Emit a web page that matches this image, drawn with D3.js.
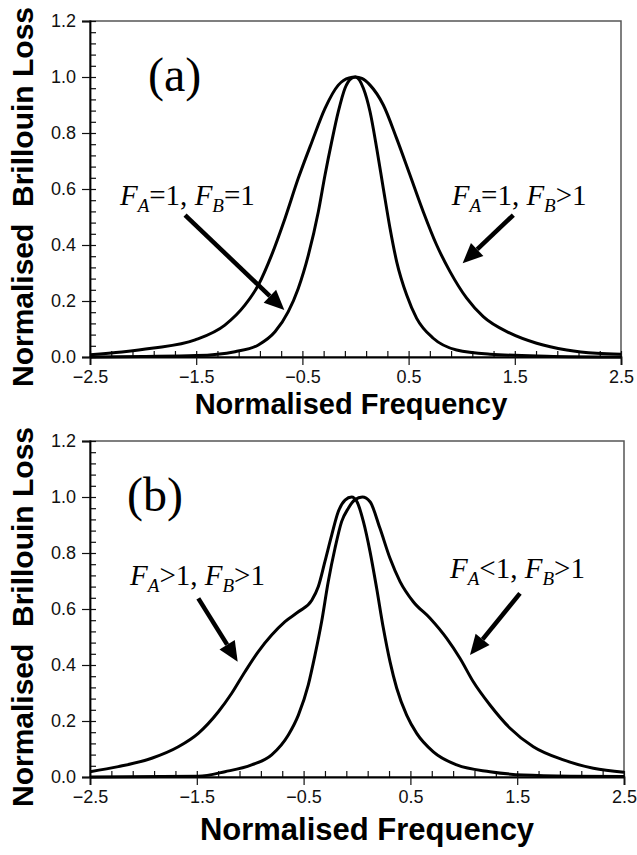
<!DOCTYPE html>
<html>
<head>
<meta charset="utf-8">
<script src="https://cdn.jsdelivr.net/npm/d3@7"></script>
<style>
  body { margin: 0; background: #fff; }
  svg { display: block; }
</style>
</head>
<body>
<svg id="chart" width="637" height="855"></svg>
<script>
// ---- data ----
var xMajor = [-2.5, -1.5, -0.5, 0.5, 1.5, 2.5];
var yMajor = [0, 0.2, 0.4, 0.6, 0.8, 1.0, 1.2];

// panel (a): F_A=1, F_B=1 (narrow)
var aNarrowX = [-2.5, -2.0, -1.5, -1.135, -0.915, -0.758, -0.633, -0.539, -0.444, -0.35, -0.287, -0.224, -0.162, -0.099, -0.04, 0.0, 0.074, 0.137, 0.2, 0.262, 0.325, 0.388, 0.482, 0.576, 0.732, 0.952, 1.266, 1.8, 2.5];
var aNarrowY = [0.0, 0.002, 0.005, 0.019, 0.043, 0.09, 0.162, 0.245, 0.364, 0.519, 0.65, 0.769, 0.876, 0.96, 0.995, 1.0, 0.96, 0.876, 0.745, 0.602, 0.46, 0.34, 0.221, 0.138, 0.067, 0.025, 0.01, 0.003, 0.0];
// panel (a): F_A=1, F_B>1 (wide)
var aWideX = [-2.5, -2.2, -1.92, -1.51, -1.23, -1.04, -0.915, -0.79, -0.664, -0.539, -0.41, -0.287, -0.162, -0.06, 0.0, 0.06, 0.137, 0.262, 0.388, 0.513, 0.638, 0.764, 0.89, 1.047, 1.203, 1.455, 1.706, 1.989, 2.27, 2.5];
var aWideY = [0.008, 0.018, 0.031, 0.061, 0.114, 0.186, 0.257, 0.364, 0.495, 0.638, 0.769, 0.888, 0.971, 0.997, 1.0, 0.995, 0.971, 0.9, 0.78, 0.65, 0.519, 0.4, 0.305, 0.21, 0.144, 0.085, 0.049, 0.025, 0.013, 0.01];

// panel (b): F_A>1, F_B>1 (wide on the low side)
var bLeftX = [-2.5, -2.235, -1.922, -1.673, -1.486, -1.298, -1.173, -1.049, -0.924, -0.799, -0.674, -0.549, -0.425, -0.362, -0.3, -0.237, -0.175, -0.112, -0.05, 0.0, 0.06, 0.122, 0.184, 0.247, 0.309, 0.372, 0.465, 0.559, 0.715, 0.934, 1.245, 1.557, 2.0, 2.5];
var bLeftY = [0.019, 0.037, 0.067, 0.108, 0.156, 0.233, 0.299, 0.376, 0.448, 0.507, 0.555, 0.59, 0.63, 0.68, 0.77, 0.864, 0.948, 0.989, 1.0, 0.983, 0.912, 0.805, 0.674, 0.531, 0.412, 0.317, 0.221, 0.156, 0.09, 0.043, 0.019, 0.007, 0.003, 0.002];
// panel (b): F_A<1, F_B>1 (wide on the high side)
var bRightX = [-2.5, -1.486, -1.236, -0.987, -0.799, -0.643, -0.549, -0.456, -0.393, -0.331, -0.269, -0.206, -0.144, -0.081, -0.02, 0.05, 0.122, 0.215, 0.309, 0.403, 0.527, 0.684, 0.84, 0.964, 1.089, 1.245, 1.433, 1.651, 1.932, 2.213, 2.5];
var bRightY = [0.0, 0.003, 0.019, 0.043, 0.079, 0.15, 0.221, 0.329, 0.436, 0.555, 0.698, 0.817, 0.912, 0.96, 0.99, 1.0, 0.983, 0.888, 0.781, 0.698, 0.626, 0.567, 0.495, 0.424, 0.34, 0.257, 0.174, 0.108, 0.061, 0.031, 0.017];

// annotation labels: [a, b, rel, value] ; arrows: [x1, y1, x2, y2] in data units
var aLabels = [["A", "B", "=1, ", "=1"], ["A", "B", "=1, ", ">1"]];
var aLabelPos = [[-2.218, 0.543], [0.906, 0.543]];
var aArrows = [[-1.605, 0.507, -0.67, 0.168], [1.486, 0.507, 1.009, 0.335]];
var bLabels = [["A", "B", ">1, ", ">1"], ["A", "B", "<1, ", ">1"]];
var bLabelPos = [[-2.125, 0.686], [0.871, 0.711]];
var bArrows = [[-1.486, 0.638, -1.117, 0.412], [1.526, 0.656, 1.058, 0.436]];

var svg = d3.select("#chart");

var zip = function(xs, ys) { return xs.map(function(x, i) { return [x, ys[i]]; }); };

function drawPanel(p) {
    var x = d3.scaleLinear().domain([-2.5, 2.5]).range([p.left, p.right]);
    var y = d3.scaleLinear().domain([0, 1.2]).range([p.bottom, p.top]);
    var g = svg.append("g");

    // frame
    g.append("rect")
        .attr("x", p.left).attr("y", p.top)
        .attr("width", p.right - p.left).attr("height", p.bottom - p.top)
        .attr("fill", "none").attr("stroke", "#555").attr("stroke-width", 1.5);

    // minor ticks (inward)
    var xMinor = d3.range(0, 26).map(function(i) { return -2.5 + i * 0.2; });
    var yMinor = d3.range(0, 31).map(function(i) { return i * 0.04; });
    g.append("g")
        .attr("transform", "translate(0," + p.bottom + ")")
        .call(d3.axisBottom(x).tickValues(xMinor).tickSize(-6).tickFormat(""))
        .call(function(s) { s.select(".domain").remove(); });
    g.append("g")
        .attr("transform", "translate(" + p.left + ",0)")
        .call(d3.axisLeft(y).tickValues(yMinor).tickSize(-6).tickFormat(""))
        .call(function(s) { s.select(".domain").remove(); });

    // major ticks and labels
    var xa = g.append("g")
        .attr("transform", "translate(0," + p.bottom + ")")
        .call(d3.axisBottom(x).tickValues(xMajor).tickSize(8).tickPadding(5).tickFormat(d3.format(".1f")));
    var ya = g.append("g")
        .attr("transform", "translate(" + p.left + ",0)")
        .call(d3.axisLeft(y).tickValues(yMajor).tickSize(8).tickPadding(6).tickFormat(d3.format(".1f")));
    [xa, ya].forEach(function(a) {
        a.select(".domain").attr("stroke", "#000").attr("stroke-width", 1.8);
        a.selectAll("text").attr("font-family", "Liberation Sans, Arial, sans-serif")
            .attr("font-size", 18).attr("fill", "#111");
    });
    g.selectAll(".tick line").attr("stroke", "#111").attr("stroke-width", 1.2);

    // curves
    var line = d3.line()
        .x(function(d) { return x(d[0]); })
        .y(function(d) { return y(d[1]); })
        .curve(d3.curveMonotoneX);
    p.curves.forEach(function(c) {
        g.append("path").attr("d", line(c))
            .attr("fill", "none").attr("stroke", "#000")
            .attr("stroke-width", 3).attr("stroke-linejoin", "round");
    });

    // panel letter
    g.append("text")
        .attr("x", x(p.letterPos[0])).attr("y", y(p.letterPos[1]))
        .attr("font-family", "Liberation Serif, Times New Roman, serif")
        .attr("font-size", 48)
        .text(p.letter);

    // annotation labels
    p.labels.forEach(function(l, i) {
        var t = g.append("text")
            .attr("x", x(p.labelPos[i][0])).attr("y", y(p.labelPos[i][1]))
            .attr("font-family", "Liberation Serif, Times New Roman, serif")
            .attr("font-size", 29);
        t.append("tspan").attr("font-style", "italic").text("F");
        t.append("tspan").attr("font-style", "italic").attr("font-size", 19).attr("dy", 7).text(l[0]);
        t.append("tspan").attr("dy", -7).style("white-space", "pre").text(l[2]);
        t.append("tspan").attr("font-style", "italic").text("F");
        t.append("tspan").attr("font-style", "italic").attr("font-size", 19).attr("dy", 7).text(l[1]);
        t.append("tspan").attr("dy", -7).text(l[3]);
    });

    // arrows
    p.arrows.forEach(function(a) {
        var x1 = x(a[0]), y1 = y(a[1]), x2 = x(a[2]), y2 = y(a[3]);
        var ang = Math.atan2(y2 - y1, x2 - x1);
        var hl = 20, hw = 9;
        var bx = x2 - hl * Math.cos(ang), by = y2 - hl * Math.sin(ang);
        g.append("line")
            .attr("x1", x1).attr("y1", y1).attr("x2", bx).attr("y2", by)
            .attr("stroke", "#000").attr("stroke-width", 4.5);
        var px = -Math.sin(ang), py = Math.cos(ang);
        g.append("polygon")
            .attr("points", [[x2, y2], [bx + hw * px, by + hw * py], [bx - hw * px, by - hw * py]].join(" "))
            .attr("fill", "#000");
    });

    // axis titles
    svg.append("text")
        .attr("x", p.xTitle[0]).attr("y", p.xTitle[1])
        .attr("text-anchor", "middle")
        .attr("font-family", "Liberation Sans, Arial, sans-serif")
        .attr("font-weight", "bold").attr("font-size", p.xTitle[2])
        .text("Normalised Frequency");
    svg.append("text")
        .attr("transform", "translate(33," + p.yTitleMid + ") rotate(-90)")
        .attr("text-anchor", "middle")
        .attr("font-family", "Liberation Sans, Arial, sans-serif")
        .attr("font-weight", "bold").attr("font-size", 30)
        .style("white-space", "pre")
        .text("Normalised  Brillouin Loss");
}

drawPanel({
    left: 90, right: 621, top: 21, bottom: 357,
    curves: [zip(aNarrowX, aNarrowY), zip(aWideX, aWideY)],
    letter: "(a)", letterPos: [-1.954, 0.95],
    labels: aLabels, labelPos: aLabelPos, arrows: aArrows,
    xTitle: [351, 414, 29], yTitleMid: 197
});

drawPanel({
    left: 90, right: 624, top: 441, bottom: 777,
    curves: [zip(bLeftX, bLeftY), zip(bRightX, bRightY)],
    letter: "(b)", letterPos: [-2.154, 0.95],
    labels: bLabels, labelPos: bLabelPos, arrows: bArrows,
    xTitle: [367, 840, 31], yTitleMid: 617
});
</script>
</body>
</html>
